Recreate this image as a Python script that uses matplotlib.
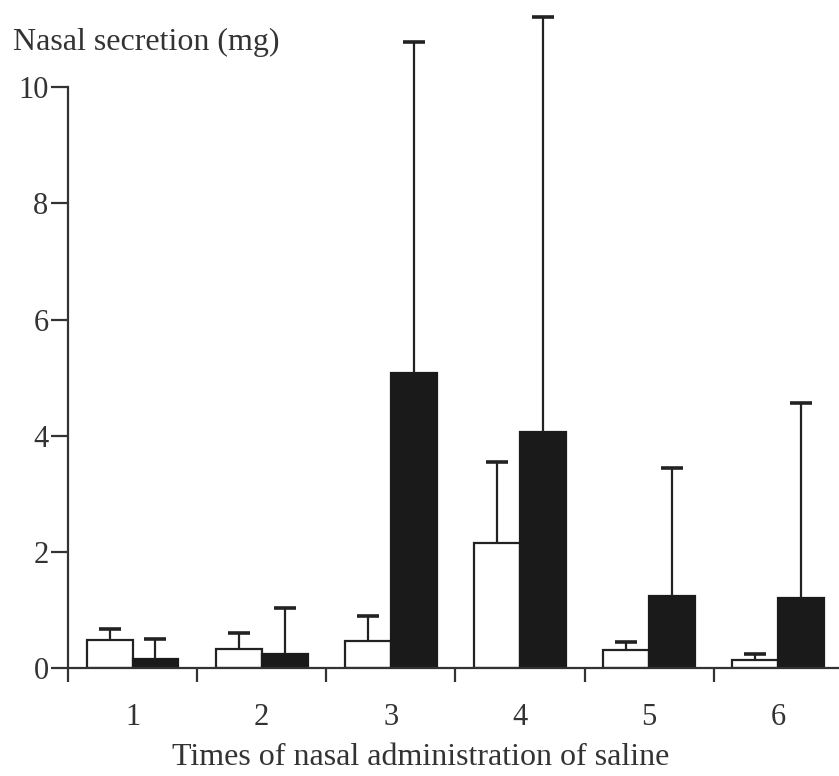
#!/usr/bin/env python3

import numpy as np
import matplotlib
matplotlib.use("Agg")
import matplotlib.pyplot as plt

# Nasal secretion after each saline administration (mean + SD, upper bar only)
times = [1, 2, 3, 4, 5, 6]
white_mean = [0.49, 0.33, 0.47, 2.15, 0.31, 0.14]
white_sd = [0.19, 0.27, 0.43, 1.39, 0.14, 0.10]
black_mean = [0.15, 0.25, 5.08, 4.06, 1.24, 1.21]
black_sd = [0.35, 0.78, 5.70, 7.14, 2.20, 3.36]

plt.rcParams['font.family'] = ['Liberation Serif', 'DejaVu Serif']

fig = plt.figure(figsize=(8.39, 7.76), dpi=100)
ax = fig.add_axes([0.081, 0.139, 0.919, 0.861])

x = np.array(times, dtype=float)
w = 0.355

ax.bar(x - w / 2, white_mean, w, color='white', edgecolor='#222222', linewidth=1.6)
ax.bar(x + w / 2, black_mean, w, color='#1a1a1a', edgecolor='#1a1a1a', linewidth=1.6)

# error bars, upward only: hide the cap at the lower (zero) end
for pos, m, sd in [(x - w / 2, white_mean, white_sd), (x + w / 2, black_mean, black_sd)]:
    eb = ax.errorbar(pos, m, yerr=[np.zeros(len(sd)), sd], fmt='none',
                     ecolor='#222222', elinewidth=1.6, capsize=8, capthick=2.6)
    eb[1][0].set_visible(False)

ax.set_xlim(0.5, 6.47)
ax.set_ylim(0, 11.5)

for s in ['top', 'right']:
    ax.spines[s].set_visible(False)
ax.spines['left'].set_bounds(0, 10)
ax.spines['left'].set_linewidth(1.6)
ax.spines['bottom'].set_linewidth(1.6)
ax.spines['left'].set_color('#333333')
ax.spines['bottom'].set_color('#333333')

ax.set_yticks([0, 2, 4, 6, 8, 10])
ax.tick_params(axis='y', direction='out', length=12, width=1.6, pad=2,
               labelsize=22, color='#333333', labelcolor='#333333')

# tick marks between groups, labels at group centres
ax.set_xticks([0.5, 1.5, 2.5, 3.5, 4.5, 5.5])
ax.set_xticklabels([])
ax.set_xticks(x, minor=True)
ax.set_xticklabels([str(t) for t in times], minor=True)
ax.tick_params(axis='x', which='major', direction='out', length=10, width=1.6,
               color='#333333')
ax.tick_params(axis='x', which='minor', length=0, pad=25, labelsize=22,
               labelcolor='#333333')

ax.set_xlabel("Times of nasal administration of saline", fontsize=23,
              color='#333333')
ax.xaxis.set_label_coords(0.457, -0.112)
fig.text(0.015, 0.945, "Nasal secretion (mg)", fontsize=23, color='#333333',
         va='center', ha='left')

fig.savefig("out.png", dpi=100)
